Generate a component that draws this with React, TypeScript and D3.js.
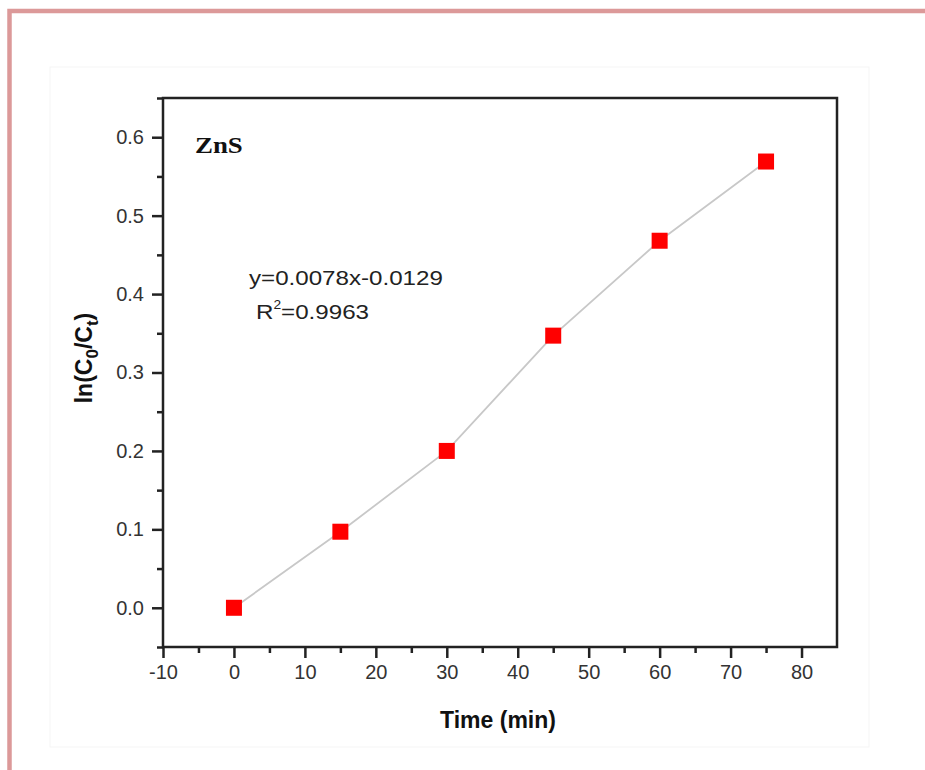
import React, { useRef, useEffect } from 'react';
import * as d3 from 'd3';

// data
const timeMin = [0, 15, 30, 45, 60, 75];
const lnRatio = [0, 0.097, 0.2, 0.347, 0.468, 0.569];
const xTicks = [-10, 0, 10, 20, 30, 40, 50, 60, 70, 80];
const yTicks = [0.0, 0.1, 0.2, 0.3, 0.4, 0.5, 0.6];

const App = () => {
  const chart = useRef<SVGSVGElement>(null);

  useEffect(() => {
    const svg = d3.select(chart.current);
    svg.selectAll('*').remove();

    const width = 925;
    const height = 770;
    const left = 163, right = 837, top = 98, bottom = 647;
    const font = 'Arial, "Liberation Sans", sans-serif';

    svg.attr('width', width).attr('height', height);

    // page frame
    svg.append('rect').attr('x', 50).attr('y', 67).attr('width', 819).attr('height', 680)
      .attr('fill', 'none').attr('stroke', '#f5f5f5').attr('stroke-width', 1);
    svg.append('path').attr('d', 'M9.5,770 V11 H925')
      .attr('fill', 'none').attr('stroke', '#dc9999').attr('stroke-width', 4.5);

    const x = d3.scaleLinear().domain([-10, 85]).range([left, right]);
    const y = d3.scaleLinear().domain([-0.05, 0.65]).range([bottom, top]);

    // x axis
    const xAxis = svg.append('g').attr('transform', 'translate(0,' + bottom + ')')
      .call(d3.axisBottom(x).tickValues(xTicks).tickSize(11).tickSizeOuter(0).tickPadding(7)
        .tickFormat((d) => String(d)));
    const xMinor = svg.append('g').attr('transform', 'translate(0,' + bottom + ')')
      .call(d3.axisBottom(x).tickValues(d3.range(-5, 85, 10)).tickSize(6).tickSizeOuter(0).tickFormat(() => ''));

    // y axis
    const yAxis = svg.append('g').attr('transform', 'translate(' + left + ',0)')
      .call(d3.axisLeft(y).tickValues(yTicks).tickSize(11).tickSizeOuter(0).tickPadding(8)
        .tickFormat(d3.format('.1f')));
    const yMinor = svg.append('g').attr('transform', 'translate(' + left + ',0)')
      .call(d3.axisLeft(y).tickValues([-0.05, 0.05, 0.15, 0.25, 0.35, 0.45, 0.55, 0.65]).tickSize(6).tickSizeOuter(0).tickFormat(() => ''));

    [xAxis, xMinor, yAxis, yMinor].forEach((g) => {
      g.select('.domain').remove();
      g.attr('font-size', null).attr('font-family', null);
      g.selectAll('line').attr('stroke', '#222').attr('stroke-width', 2.5);
      g.selectAll('text').style('font-family', font).style('font-size', '20px').attr('fill', '#333');
    });

    // frame box
    svg.append('rect').attr('x', left).attr('y', top).attr('width', right - left).attr('height', bottom - top)
      .attr('fill', 'none').attr('stroke', '#222').attr('stroke-width', 2.5);

    const pts = timeMin.map((t, i) => [t, lnRatio[i]] as [number, number]);

    // connecting line
    svg.append('path')
      .datum(pts)
      .attr('fill', 'none')
      .attr('stroke', '#c8c8c8')
      .attr('stroke-width', 1.8)
      .attr('d', d3.line<[number, number]>()
        .x((d) => x(d[0]))
        .y((d) => y(d[1])));

    // markers
    svg.append('g').selectAll('rect')
      .data(pts)
      .enter().append('rect')
      .attr('x', (d) => x(d[0]) - 8)
      .attr('y', (d) => y(d[1]) - 8)
      .attr('width', 16)
      .attr('height', 16)
      .attr('fill', '#ff0000');

    // annotations (slightly stretched sideways like the source image)
    svg.append('text').attr('transform', 'translate(195,153) scale(1.12,1)').text('ZnS')
      .style('font-family', '"Liberation Serif", "Times New Roman", serif').attr('font-weight', 'bold')
      .style('font-size', '24px').attr('fill', '#111');

    svg.append('text').attr('transform', 'translate(249,285) scale(1.15,1)').text('y=0.0078x-0.0129')
      .style('font-family', font).style('font-size', '21px').attr('fill', '#222');

    const r2 = svg.append('text').attr('transform', 'translate(256,319) scale(1.15,1)')
      .style('font-family', font).style('font-size', '21px').attr('fill', '#222');
    r2.append('tspan').text('R');
    r2.append('tspan').text('2').style('font-size', '12px').attr('dy', -10);
    r2.append('tspan').text('=0.9963').attr('dy', 10);

    // axis titles
    svg.append('text').attr('x', 498).attr('y', 728).attr('text-anchor', 'middle')
      .text('Time (min)')
      .style('font-family', font).attr('font-weight', 'bold').style('font-size', '23px').attr('fill', '#111');

    const yl = svg.append('text')
      .attr('transform', 'translate(92,' + 358 + ') rotate(-90)')
      .attr('text-anchor', 'middle')
      .style('font-family', font).attr('font-weight', 'bold').style('font-size', '23px').attr('fill', '#111');
    yl.append('tspan').text('ln(C');
    yl.append('tspan').text('0').style('font-size', '17px').attr('dy', 6);
    yl.append('tspan').text('/C').attr('dy', -6);
    yl.append('tspan').text('t').style('font-size', '17px').attr('dy', 6);
    yl.append('tspan').text(')').attr('dy', -6);
  }, []);

  return (
    <div style={{ position: 'absolute', left: 0, top: 0 }}>
      <svg ref={chart} style={{ display: 'block', background: '#fff' }}></svg>
    </div>
  );
};

export default App;
